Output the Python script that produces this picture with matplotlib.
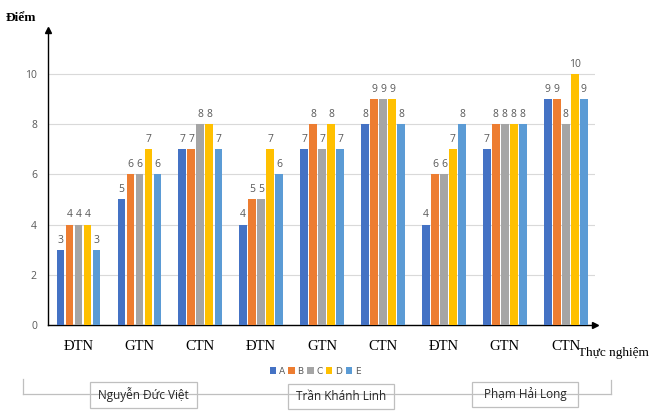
import numpy as np
import matplotlib
matplotlib.use("Agg")
import matplotlib.pyplot as plt
from matplotlib.lines import Line2D
from matplotlib.patches import Rectangle

categories = ["ĐTN", "GTN", "CTN", "ĐTN", "GTN", "CTN", "ĐTN", "GTN", "CTN"]
students = ["Nguyễn Đức Việt", "Trần Khánh Linh", "Phạm Hải Long"]
series = ["A", "B", "C", "D", "E"]
score_a = [3, 5, 7, 4, 7, 8, 4, 7, 9]
score_b = [4, 6, 7, 5, 8, 9, 6, 8, 9]
score_c = [4, 6, 8, 5, 7, 9, 6, 8, 8]
score_d = [4, 7, 8, 7, 8, 9, 7, 8, 10]
score_e = [3, 6, 7, 6, 7, 8, 8, 8, 9]
colors = ["#4472C4", "#ED7D31", "#A5A5A5", "#FFC000", "#5B9BD5"]

W, H = 650, 417
fig = plt.figure(figsize=(6.5, 4.17), dpi=100)
ax = fig.add_axes([48 / W, 1 - 325 / H, (595 - 48) / W, (325 - 30) / H])


def px(x, y):
    return x / W, 1 - y / H


x = np.arange(len(categories))
step = 0.148
width = 0.125
all_scores = [score_a, score_b, score_c, score_d, score_e]
for i, (name, vals) in enumerate(zip(series, all_scores)):
    bars = ax.bar(x + (i - 2) * step, vals, width, color=colors[i], label=name, zorder=3)
    ax.bar_label(bars, padding=3, fontsize=7.5, color="#595959", family="Open Sans")

ax.set_xlim(-0.5, 8.48)
ax.set_ylim(0, 11.75)
ax.set_yticks([0, 2, 4, 6, 8, 10])
ax.set_xticks(x)
ax.set_xticklabels(categories, family="Liberation Serif", fontsize=10.5)
ax.tick_params(axis="x", length=0, pad=11)
ax.tick_params(axis="y", length=0, pad=8, labelsize=7.5, labelcolor="#595959")
for t in ax.get_yticklabels():
    t.set_family("Open Sans")
ax.grid(axis="y", color="#D9D9D9", linewidth=0.8, zorder=0)
for s in ["top", "right"]:
    ax.spines[s].set_visible(False)
for s in ["left", "bottom"]:
    ax.spines[s].set_color("black")
    ax.spines[s].set_linewidth(1.0)
ax.plot(0, 1, "^", color="black", markersize=5, transform=ax.transAxes, clip_on=False)
ax.plot(1, 0, ">", color="black", markersize=5, transform=ax.transAxes, clip_on=False)

fig.text(*px(6, 18), "Điểm", family="Liberation Serif", fontsize=9.5,
         fontweight="bold", ha="left", va="center")
fig.text(*px(649, 353), "Thực nghiệm", family="Liberation Serif", fontsize=9.5,
         ha="right", va="center")

ax.legend(loc="center", bbox_to_anchor=(px(315, 371)), bbox_transform=fig.transFigure,
          ncol=5, frameon=False, fontsize=6.5, handlelength=0.7, handleheight=0.7,
          handletextpad=0.3, columnspacing=0.4, labelcolor="#595959")

# student bracket line and name boxes
line_col = "#BFBFBF"
fig.add_artist(Line2D([px(23, 0)[0], px(611, 0)[0]], [px(0, 394)[1]] * 2,
                      color=line_col, linewidth=0.9))
fig.add_artist(Line2D([px(23, 0)[0]] * 2, [px(0, 379)[1], px(0, 394)[1]],
                      color=line_col, linewidth=0.9))
fig.add_artist(Line2D([px(611, 0)[0]] * 2, [px(0, 380)[1], px(0, 394)[1]],
                      color=line_col, linewidth=0.9))
boxes = [(90, 382, 197, 408), (288, 384, 394, 409), (472, 382, 578, 407)]
for name, (x0, y0, x1, y1) in zip(students, boxes):
    fx0, fy1 = px(x0, y1)
    fx1, fy0 = px(x1, y0)
    fig.add_artist(Rectangle((fx0, fy1), fx1 - fx0, fy0 - fy1, facecolor="white",
                             edgecolor=line_col, linewidth=0.9, transform=fig.transFigure))
    fig.text((fx0 + fx1) / 2, (fy0 + fy1) / 2, name, family="Open Sans", fontsize=8.5,
             ha="center", va="center", color="#262626")

fig.savefig("out.png", dpi=100)
